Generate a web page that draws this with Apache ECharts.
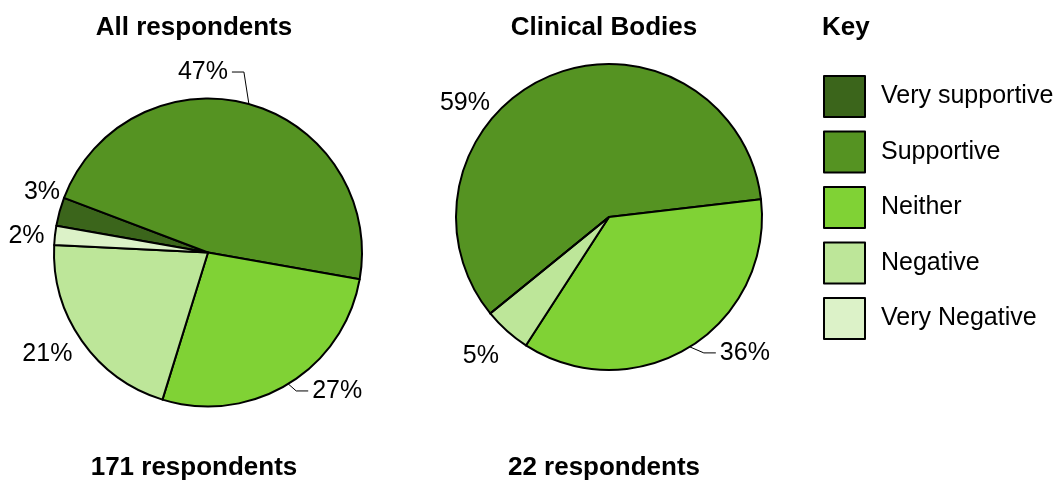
<!DOCTYPE html>
<html>
<head>
<meta charset="utf-8">
<script src="https://cdn.jsdelivr.net/npm/echarts@6/dist/echarts.min.js"></script>
<style>html,body{margin:0;padding:0;background:#fff}#c{width:1059px;height:480px}</style>
</head>
<body>
<div id="c"></div>
<script>
const categories = ['Very supportive', 'Supportive', 'Neither', 'Negative', 'Very Negative'];
const allRespondents = [3, 47, 27, 21, 2];
const clinicalBodies = [0, 59, 36, 5, 0];
const pieTitles = ['All respondents', 'Clinical Bodies'];
const pieFooters = ['171 respondents', '22 respondents'];
const keyTitle = 'Key';

const COLORS = ['#3b651b', '#559322', '#80d235', '#bde699', '#dcf2c8'];
const FONT = "'Liberation Sans', Arial, sans-serif";
// label placement relative to slice mid-edge (Excel dragged labels)
const LABEL_OFFSETS = [
  [[-17.5, -19.5], [-46, -32], [49, 7], [-34.5, 13], [-28.5, 0.7]],
  [null, [-84.5, 27], [55, 6], [-26, 25], null]
];
const LEADER = [[false, true, true, false, false], [false, false, true, false, false]];

function buildData(values) {
  return categories.map((name, i) => ({
    name: name,
    value: values[i],
    itemStyle: { color: COLORS[i] },
    label: { show: values[i] > 0 },
    labelLine: { show: values[i] > 0 }
  }));
}

function pieSeries(values, center, radius, startAngle) {
  return {
    type: 'pie',
    center: center,
    radius: radius,
    startAngle: startAngle,
    clockwise: true,
    avoidLabelOverlap: false,
    animation: false,
    itemStyle: { borderColor: '#000', borderWidth: 2 },
    emphasis: { disabled: true },
    label: {
      show: true, position: 'outside', formatter: '{c}%',
      fontSize: 25, color: '#000', fontFamily: FONT
    },
    labelLine: { show: true, length: 4, length2: 4, smooth: false,
      lineStyle: { color: '#000', width: 1 } },
    labelLayout: function (p) {
      const off = LABEL_OFFSETS[p.seriesIndex][p.dataIndex];
      const pts = p.labelLinePoints;
      if (!off || !pts) return {};
      const ax = pts[0][0], ay = pts[0][1];
      const x = ax + off[0], y = ay + off[1];
      const w = p.labelRect.width;
      const res = { x: x, y: y, align: 'center', verticalAlign: 'middle' };
      if (LEADER[p.seriesIndex][p.dataIndex]) {
        const side = off[0] < 0 ? -1 : 1;
        const ex = x - side * (w / 2 + 4);
        const bx = ex - side * 12;
        res.labelLinePoints = [[ax, ay], [bx, y], [ex, y]];
      } else {
        res.labelLinePoints = [[ax, ay], [ax, ay], [ax, ay]];
      }
      return res;
    },
    data: buildData(values)
  };
}

const titleStyle = { fontSize: 26, fontWeight: 'bold', color: '#000', fontFamily: FONT };
const chart = echarts.init(document.getElementById('c'), null, { renderer: 'canvas' });
chart.setOption({
  backgroundColor: '#fff',
  animation: false,
  title: [
    { text: pieTitles[0], left: 194, top: 28, textAlign: 'center', textVerticalAlign: 'middle', padding: 0, textStyle: titleStyle },
    { text: pieTitles[1], left: 604, top: 28, textAlign: 'center', textVerticalAlign: 'middle', padding: 0, textStyle: titleStyle },
    { text: keyTitle, left: 822, top: 28, textAlign: 'left', textVerticalAlign: 'middle', padding: 0, textStyle: titleStyle },
    { text: pieFooters[0], left: 194, top: 468, textAlign: 'center', textVerticalAlign: 'middle', padding: 0, textStyle: titleStyle },
    { text: pieFooters[1], left: 604, top: 468, textAlign: 'center', textVerticalAlign: 'middle', padding: 0, textStyle: titleStyle }
  ],
  legend: {
    orient: 'vertical', left: 823, top: 75, padding: 0,
    itemWidth: 41, itemHeight: 41, itemGap: 12.5,
    selectedMode: false, icon: 'rect',
    data: categories,
    itemStyle: { borderColor: '#000', borderWidth: 2 },
    textStyle: { fontSize: 25, color: '#000', fontFamily: FONT, padding: [0, 0, 0, 11] }
  },
  series: [
    pieSeries(allRespondents, [208, 252.5], 154, 170),
    pieSeries(clinicalBodies, [609, 217], 153, 219.1)
  ]
});
</script>
</body>
</html>
